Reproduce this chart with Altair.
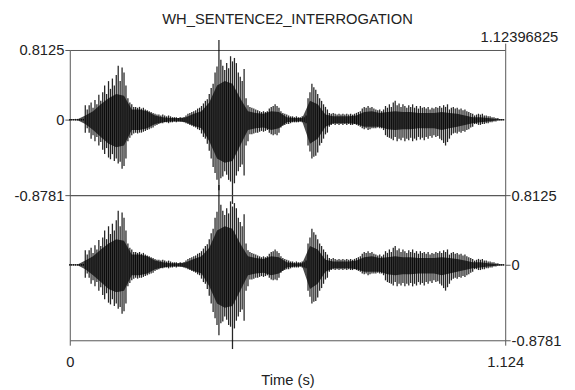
import altair as alt
import pandas as pd

HI = [0.01, 0.01, 0.01, 0.01, 0.01, 0.01, 0.01, 0.01,
      0.17, 0.12, 0.17, 0.20, 0.14, 0.23, 0.18, 0.29, 0.22, 0.32, 0.40, 0.30,
      0.45, 0.36, 0.48, 0.40, 0.52, 0.63, 0.45, 0.61, 0.55, 0.40,
      0.25, 0.20, 0.18, 0.15, 0.15, 0.14, 0.15, 0.13, 0.14, 0.12,
      0.11, 0.10, 0.09, 0.08, 0.07, 0.06, 0.06, 0.05, 0.06, 0.05,
      0.04, 0.05, 0.04, 0.03, 0.03, 0.03, 0.02, 0.03, 0.02, 0.03,
      0.05, 0.07, 0.08, 0.09, 0.10, 0.11, 0.13, 0.14, 0.16, 0.19,
      0.22, 0.24, 0.30, 0.37, 0.42, 0.55, 0.62, 0.93, 0.70, 0.63,
      0.58, 0.66, 0.60, 0.74, 0.68, 0.72, 0.66, 0.55, 0.50, 0.45,
      0.59, 0.25, 0.17, 0.15, 0.14, 0.13, 0.12, 0.11, 0.10, 0.09,
      0.10, 0.09, 0.10, 0.13, 0.15, 0.16, 0.18, 0.16, 0.14, 0.10,
      0.08, 0.07, 0.06, 0.05, 0.04, 0.04, 0.03, 0.04, 0.03, 0.03,
      0.04, 0.03, 0.05, 0.25, 0.32, 0.42, 0.38, 0.35, 0.30, 0.25,
      0.22, 0.18, 0.15, 0.12, 0.08, 0.07, 0.08, 0.07, 0.06, 0.07,
      0.06, 0.07, 0.06, 0.07, 0.06, 0.07, 0.06, 0.07, 0.08, 0.09,
      0.10, 0.13, 0.15, 0.14, 0.16, 0.14, 0.15, 0.13, 0.12, 0.11,
      0.12, 0.10, 0.12, 0.16, 0.14, 0.18, 0.15, 0.20, 0.22, 0.17,
      0.19, 0.15, 0.18, 0.16, 0.14, 0.17, 0.15, 0.18, 0.14, 0.16,
      0.13, 0.16, 0.14, 0.15, 0.13, 0.15, 0.12, 0.14, 0.13, 0.15,
      0.14, 0.16, 0.14, 0.17, 0.15, 0.18, 0.12, 0.14, 0.15, 0.13,
      0.14, 0.12, 0.13, 0.11, 0.12, 0.10, 0.09, 0.08, 0.07, 0.05,
      0.06, 0.07, 0.06, 0.07, 0.05, 0.05, 0.04, 0.04, 0.03, 0.03,
      0.02, 0.02, 0.01, 0.01, 0.01]
LO = [-0.01, -0.01, -0.01, -0.01, -0.01, -0.01, -0.01, -0.01,
      -0.15, -0.10, -0.15, -0.22, -0.18, -0.25, -0.20, -0.30, -0.26, -0.35, -0.40, -0.33,
      -0.44, -0.46, -0.40, -0.48, -0.45, -0.51, -0.49, -0.57, -0.54, -0.45,
      -0.25, -0.21, -0.18, -0.16, -0.15, -0.16, -0.15, -0.15, -0.14, -0.13,
      -0.12, -0.11, -0.10, -0.09, -0.07, -0.06, -0.05, -0.04, -0.04, -0.03,
      -0.03, -0.04, -0.03, -0.03, -0.02, -0.03, -0.02, -0.02, -0.02, -0.03,
      -0.04, -0.05, -0.06, -0.07, -0.08, -0.09, -0.11, -0.12, -0.16, -0.20,
      -0.22, -0.28, -0.36, -0.45, -0.55, -0.62, -0.70, -0.82, -0.68, -0.66,
      -0.60, -0.64, -0.70, -0.72, -0.98, -0.74, -0.65, -0.60, -0.55, -0.52,
      -0.65, -0.30, -0.25, -0.17, -0.17, -0.16, -0.15, -0.15, -0.14, -0.13,
      -0.14, -0.13, -0.12, -0.15, -0.17, -0.18, -0.17, -0.18, -0.15, -0.09,
      -0.07, -0.06, -0.05, -0.05, -0.04, -0.03, -0.03, -0.03, -0.03, -0.02,
      -0.03, -0.03, -0.04, -0.30, -0.37, -0.45, -0.43, -0.42, -0.38, -0.30,
      -0.27, -0.22, -0.17, -0.15, -0.08, -0.06, -0.05, -0.06, -0.05, -0.06,
      -0.05, -0.06, -0.05, -0.06, -0.05, -0.06, -0.06, -0.05, -0.06, -0.07,
      -0.08, -0.10, -0.11, -0.10, -0.12, -0.11, -0.10, -0.10, -0.10, -0.09,
      -0.10, -0.10, -0.12, -0.18, -0.20, -0.21, -0.22, -0.24, -0.20, -0.25,
      -0.22, -0.24, -0.21, -0.25, -0.22, -0.24, -0.21, -0.25, -0.22, -0.24,
      -0.20, -0.23, -0.21, -0.24, -0.20, -0.22, -0.19, -0.21, -0.18, -0.20,
      -0.19, -0.22, -0.24, -0.27, -0.30, -0.26, -0.22, -0.18, -0.16, -0.15,
      -0.16, -0.14, -0.15, -0.13, -0.14, -0.12, -0.11, -0.09, -0.08, -0.05,
      -0.05, -0.06, -0.06, -0.05, -0.05, -0.04, -0.04, -0.03, -0.03, -0.02,
      -0.02, -0.01, -0.01, -0.01, -0.01]
TIME = [round(i * 0.005, 3) for i in range(len(HI))]

# Dense dark core of the waveform, every 20 ms
CORE_HI = [0.005, 0.005, 0.05, 0.10, 0.18, 0.25, 0.30, 0.28, 0.12, 0.12,
           0.10, 0.05, 0.03, 0.02, 0.02, 0.03, 0.07, 0.10, 0.20, 0.40,
           0.45, 0.42, 0.25, 0.10, 0.08, 0.07, 0.10, 0.09, 0.03, 0.02,
           0.02, 0.22, 0.18, 0.06, 0.04, 0.04, 0.04, 0.05, 0.09, 0.10,
           0.08, 0.09, 0.10, 0.09, 0.09, 0.08, 0.08, 0.08, 0.09, 0.08,
           0.07, 0.05, 0.03, 0.03, 0.02, 0.01, 0.005]
CORE_LO = [-0.005, -0.005, -0.05, -0.12, -0.20, -0.28, -0.32, -0.30, -0.12, -0.12,
           -0.10, -0.05, -0.03, -0.02, -0.02, -0.03, -0.07, -0.10, -0.25, -0.45,
           -0.50, -0.48, -0.30, -0.12, -0.10, -0.09, -0.12, -0.10, -0.03, -0.02,
           -0.02, -0.28, -0.22, -0.08, -0.04, -0.04, -0.04, -0.05, -0.08, -0.08,
           -0.08, -0.11, -0.12, -0.11, -0.11, -0.10, -0.10, -0.10, -0.12, -0.10,
           -0.08, -0.06, -0.04, -0.03, -0.02, -0.01, -0.005]
CORE_TIME = [round(i * 0.02, 2) for i in range(len(CORE_HI))]

TITLE = "WH_SENTENCE2_INTERROGATION"
DURATION_LABEL = "1.12396825"
Y_TICKS = [-0.8781, 0, 0.8125]
X_TICKS = [0, 1.124]

df = pd.DataFrame({"t": TIME, "hi": HI, "lo": LO})
core = pd.DataFrame({"t": CORE_TIME, "hi": CORE_HI, "lo": CORE_LO})

FONT = "Liberation Sans"
x_scale = alt.Scale(domain=[0, 1.124], nice=False, zero=False)
y_scale = alt.Scale(domain=[-0.8781, 0.8125], nice=False, zero=False)
y_label = "datum.value == 0 ? '0' : (datum.value > 0 ? '0.8125' : '-0.8781')"


def panel(y_orient, x_axis):
    y_axis = alt.Axis(orient=y_orient, values=Y_TICKS, labelExpr=y_label,
                      title=None, grid=False, domain=False, labelFlush=False)
    spikes = alt.Chart(df).mark_rule(color="black", strokeWidth=1.3, opacity=0.85).encode(
        x=alt.X("t:Q", scale=x_scale, axis=x_axis),
        y=alt.Y("hi:Q", scale=y_scale, axis=y_axis),
        y2="lo:Q",
    )
    dense = alt.Chart(core).mark_area(color="black", opacity=0.7).encode(
        x=alt.X("t:Q", scale=x_scale),
        y=alt.Y("hi:Q", scale=y_scale),
        y2="lo:Q",
    )
    return alt.layer(spikes, dense).properties(width=444, height=148)


top = panel("left", alt.Axis(orient="top", values=[1.124], labelExpr=f"'{DURATION_LABEL}'",
                             title=None, grid=False, domain=False, tickSize=7,
                             labelFlush=False, labelOffset=14, labelPadding=-1))
bottom = panel("right", alt.Axis(orient="bottom", values=X_TICKS,
                                 labelExpr="datum.value == 0 ? '0' : '1.124'",
                                 title="Time (s)", grid=False, domain=False,
                                 labelFlush=False, labelPadding=10))

chart = alt.vconcat(top, bottom, spacing=0, bounds="flush").properties(
    title=alt.Title(TITLE, font=FONT, fontSize=15, fontWeight="normal",
                    color="#222", anchor="middle", offset=2),
    padding={"left": 5, "top": 0, "right": 5, "bottom": 5},
).configure_view(stroke="#555", strokeWidth=1).configure_axis(
    labelFont=FONT, labelFontSize=15, labelColor="#222", tickColor="#555",
    tickSize=5, labelPadding=1, titleFont=FONT, titleFontSize=15,
    titleFontWeight="normal", titleColor="#222", titlePadding=3,
)

chart.save("out.html", embed_options={"renderer": "svg", "actions": False})
